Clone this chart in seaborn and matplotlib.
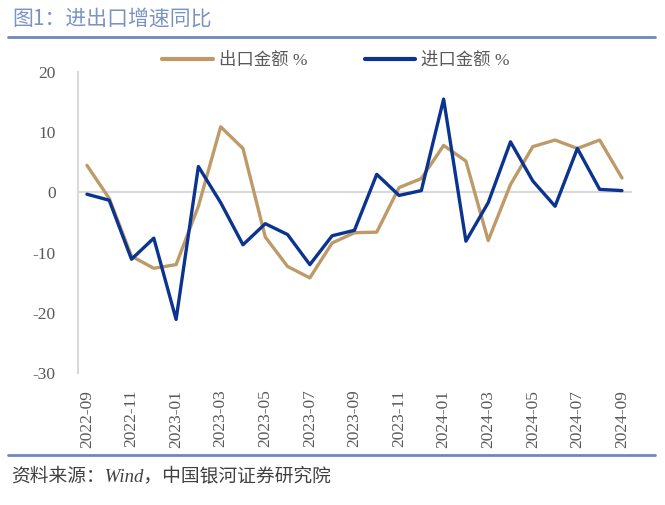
import pandas as pd
import seaborn as sns
import matplotlib.pyplot as plt
from matplotlib.lines import Line2D

months = ['2022-09', '2022-10', '2022-11', '2022-12', '2023-01', '2023-02', '2023-03',
          '2023-04', '2023-05', '2023-06', '2023-07', '2023-08', '2023-09', '2023-10',
          '2023-11', '2023-12', '2024-01', '2024-02', '2024-03', '2024-04', '2024-05',
          '2024-06', '2024-07', '2024-08', '2024-09']
export_yoy = [4.5, -1.0, -10.6, -12.6, -12.0, -2.3, 10.9, 7.3, -7.4, -12.3, -14.2, -8.4,
              -6.7, -6.6, 0.8, 2.3, 7.8, 5.2, -8.0, 1.3, 7.6, 8.7, 7.3, 8.7, 2.4]
import_yoy = [-0.3, -1.3, -11.1, -7.6, -21.1, 4.3, -1.7, -8.7, -5.2, -7.0, -12.0, -7.2,
              -6.3, 3.0, -0.5, 0.3, 15.5, -8.1, -1.7, 8.4, 1.9, -2.3, 7.3, 0.5, 0.3]
series_names = ['出口金额 %', '进口金额 %']
colors = ['#BE9A69', '#0B3390']

df = pd.DataFrame({'idx': range(len(months)), 'month': months,
                   series_names[0]: export_yoy, series_names[1]: import_yoy})
long_df = df.melt(id_vars=['idx', 'month'], var_name='series', value_name='yoy')

sns.set_theme(style='white')
fonts = ['Liberation Serif', 'Noto Sans CJK SC', 'DejaVu Sans']
plt.rcParams['font.family'] = fonts
plt.rcParams['axes.unicode_minus'] = False

fig = plt.figure(figsize=(6.65, 5.05), dpi=100)
ax = fig.add_axes([78/665, 1-373/505, (632-78)/665, (373-72)/505])

sns.lineplot(data=long_df, x='idx', y='yoy', hue='series', palette=colors,
             linewidth=2.4, legend=False, ax=ax)

ax.axhline(0, color='#d9d9d9', linewidth=1.5, zorder=0)
ax.set_xlim(-0.4, 24.45)
ax.set_ylim(-30, 20)
ax.set_yticks([20, 10, 0, -10, -20, -30])
ax.set_xticks(range(0, len(months), 2))
ax.set_xticklabels(months[::2], rotation=90)
ax.set_xlabel('')
ax.set_ylabel('')
ax.tick_params(axis='both', length=0, labelsize=12.5, labelcolor='#595959')
ax.tick_params(axis='y', pad=16)
ax.tick_params(axis='x', pad=12)
for s in ['top', 'right', 'bottom']:
    ax.spines[s].set_visible(False)
ax.spines['left'].set_color('#d9d9d9')
ax.spines['left'].set_linewidth(1.5)

handles = [Line2D([], [], color=c, linewidth=3) for c in colors]
fig.legend(handles, series_names, loc='center', bbox_to_anchor=(336/665, 1-61/505),
           ncol=2, frameon=False, handlelength=2.9, handletextpad=0.35, columnspacing=3.3,
           prop={'family': fonts, 'size': 12.5}, labelcolor='#595959')

# title, rules and source
fig.text(12/665, 1-19/505, '图1：进出口增速同比', fontsize=15, color='#7A93C4',
         va='center', ha='left', family=['Noto Sans CJK SC', 'DejaVu Sans'])
fig.add_artist(Line2D([8/665, 655/665], [1-37/505, 1-37/505], color='#6E89BD', linewidth=2))
fig.add_artist(Line2D([8/665, 655/665], [1-455/505, 1-455/505], color='#6E89BD', linewidth=2))
fig.text(11/665, 1-476/505, '资料来源：Wind，中国银河证券研究院', fontsize=13.5, color='#404040',
         va='center', ha='left', style='italic', family=fonts)

fig.savefig('out.png', dpi=100)
